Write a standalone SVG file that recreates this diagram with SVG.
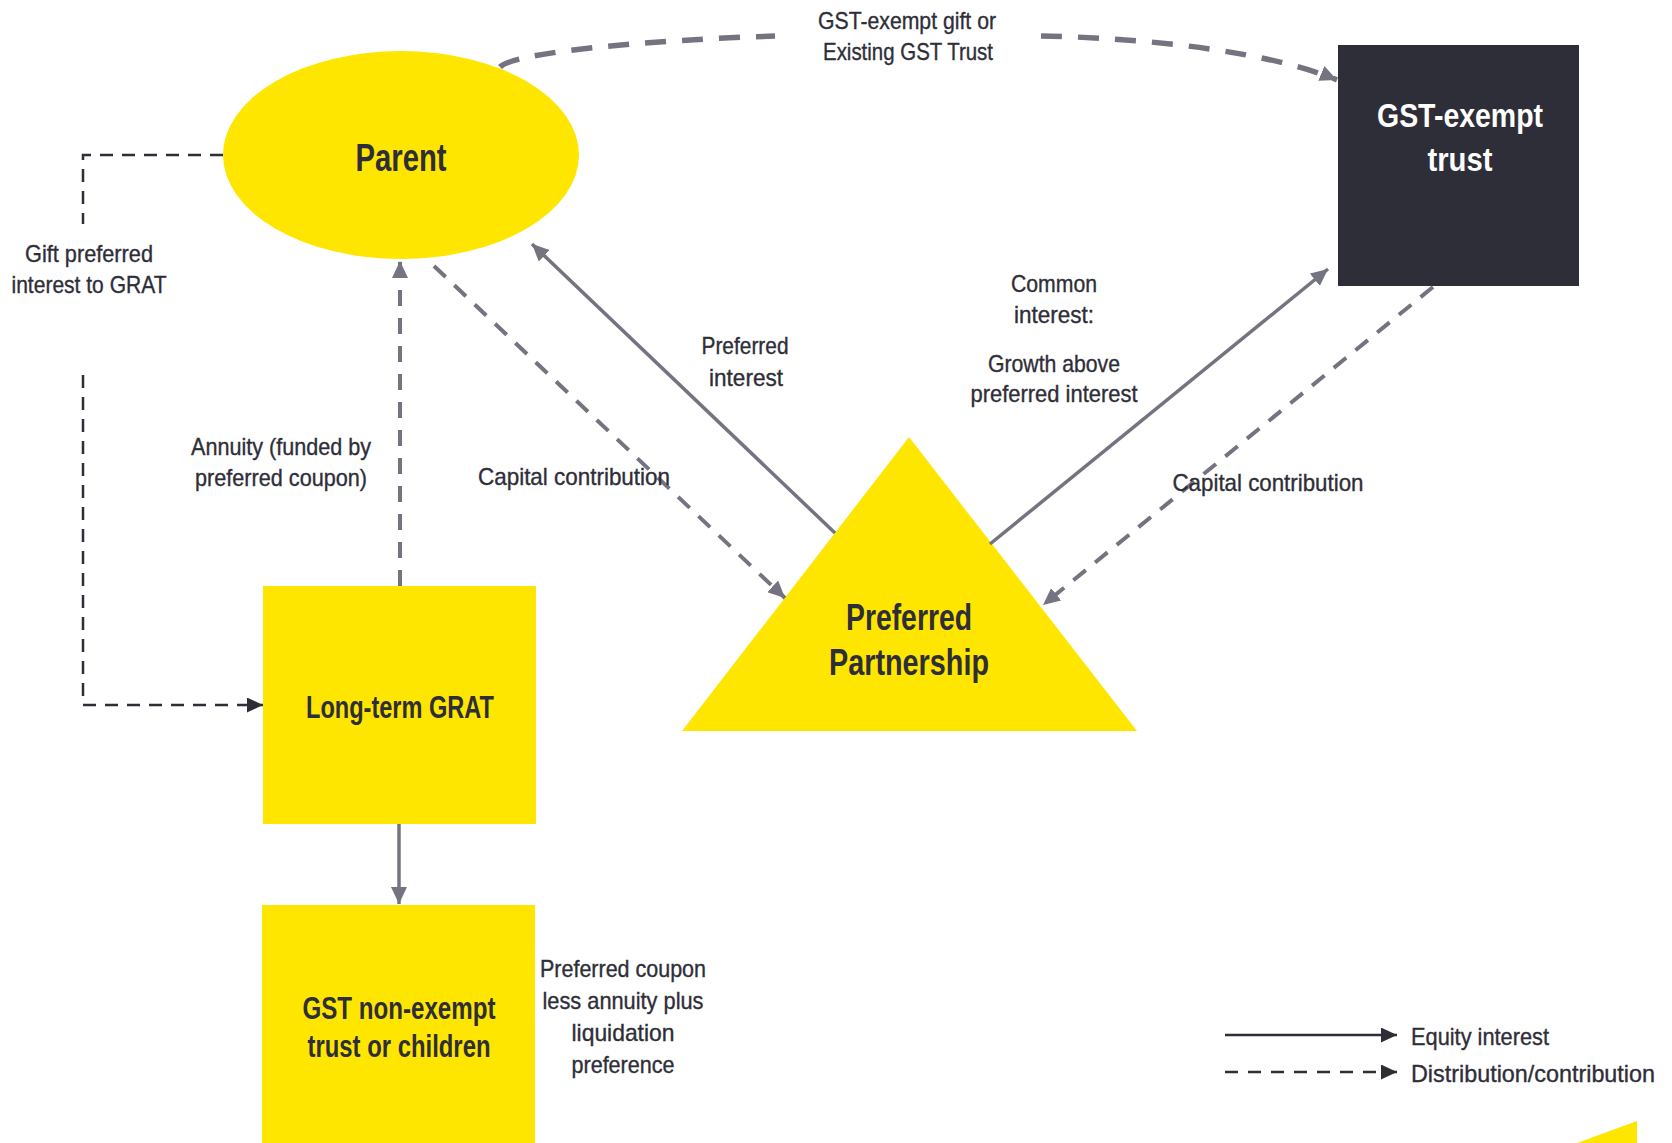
<svg xmlns="http://www.w3.org/2000/svg" width="1672" height="1143" viewBox="0 0 1672 1143">
  <style>
    .title { font-family: "Liberation Sans", Arial, sans-serif; font-weight: bold; fill: #2e2e38; text-anchor: middle; }
    .title-light { fill: #ffffff; }
    .label { font-family: "Liberation Sans", Arial, sans-serif; font-size: 24px; fill: #2e2e38; stroke: #2e2e38; stroke-width: 0.35; text-anchor: middle; }
    .legend-text { font-family: "Liberation Sans", Arial, sans-serif; font-size: 24px; fill: #2e2e38; stroke: #2e2e38; stroke-width: 0.35; }
    .equity { fill: none; stroke: #747480; stroke-width: 3.5; }
    .flow { fill: none; stroke: #747480; stroke-width: 4; stroke-dasharray: 16 12; }
    .flow-dark { fill: none; stroke: #2e2e38; stroke-width: 2.5; stroke-dasharray: 13 9; }
    .yellow { fill: #ffe600; }
  </style>
  <defs>
    <marker id="arrow-gray" markerUnits="userSpaceOnUse" markerWidth="17" markerHeight="16" viewBox="0 0 17 16" refX="17" refY="8" orient="auto">
      <path d="M0,0 L17,8 L0,16 Z" fill="#747480"/>
    </marker>
    <marker id="arrow-dark" markerUnits="userSpaceOnUse" markerWidth="16" markerHeight="15" viewBox="0 0 16 15" refX="16" refY="7.5" orient="auto">
      <path d="M0,0 L16,7.5 L0,15 Z" fill="#2e2e38"/>
    </marker>
  </defs>

  <rect width="1672" height="1143" fill="#ffffff"/>

  <!-- Nodes -->
  <g id="node-parent">
    <ellipse class="yellow" cx="401" cy="155" rx="178" ry="104"/>
    <text class="title" x="401" y="171" font-size="38" textLength="91" lengthAdjust="spacingAndGlyphs">Parent</text>
  </g>
  <g id="node-gst-exempt-trust">
    <rect x="1338" y="45" width="241" height="241" fill="#2e2e38"/>
    <text class="title title-light" x="1460" y="127" font-size="33" textLength="166" lengthAdjust="spacingAndGlyphs">GST-exempt</text>
    <text class="title title-light" x="1460" y="171" font-size="33" textLength="65" lengthAdjust="spacingAndGlyphs">trust</text>
  </g>
  <g id="node-long-term-grat">
    <rect class="yellow" x="263" y="586" width="273" height="238"/>
    <text class="title" x="400" y="718" font-size="32" textLength="188" lengthAdjust="spacingAndGlyphs">Long-term GRAT</text>
  </g>
  <g id="node-gst-non-exempt">
    <rect class="yellow" x="262" y="905" width="273" height="238"/>
    <text class="title" x="399" y="1019" font-size="31" textLength="193" lengthAdjust="spacingAndGlyphs">GST non-exempt</text>
    <text class="title" x="399" y="1057" font-size="31" textLength="183" lengthAdjust="spacingAndGlyphs">trust or children</text>
  </g>
  <g id="node-preferred-partnership">
    <polygon class="yellow" points="909,437 1137,731 682,731"/>
    <text class="title" x="909" y="630" font-size="36" textLength="126" lengthAdjust="spacingAndGlyphs">Preferred</text>
    <text class="title" x="909" y="675" font-size="36" textLength="160" lengthAdjust="spacingAndGlyphs">Partnership</text>
  </g>

  <!-- Connectors -->
  <g id="connectors">
    <!-- Parent to GST-exempt trust (gift), broken around its label -->
    <path d="M500,67 C515,52 650,40 775,36 M1041,36 C1150,38 1270,52 1337,80" fill="none" stroke="#747480" stroke-width="5.5" stroke-dasharray="21 16" marker-end="url(#arrow-gray)"/>
    <!-- Parent to Long-term GRAT (gift of preferred interest) -->
    <path class="flow-dark" d="M223,155 H83 V224 M83,375 V705 H263" marker-end="url(#arrow-dark)"/>
    <!-- Long-term GRAT annuity back to Parent -->
    <path class="flow" d="M400,586 V261" marker-end="url(#arrow-gray)"/>
    <!-- Parent capital contribution to partnership -->
    <path class="flow" d="M434,266 L785,598" marker-end="url(#arrow-gray)"/>
    <!-- Preferred interest to Parent -->
    <path class="equity" d="M835,533 L532,244" marker-end="url(#arrow-gray)"/>
    <!-- Common interest to GST-exempt trust -->
    <path class="equity" d="M990,544 L1328,269" marker-end="url(#arrow-gray)"/>
    <!-- GST-exempt trust capital contribution to partnership -->
    <path class="flow" d="M1433,287 L1043,605" marker-end="url(#arrow-gray)"/>
    <!-- Long-term GRAT to remainder beneficiaries -->
    <path class="equity" d="M399,824 V904" marker-end="url(#arrow-gray)"/>
  </g>

  <!-- Connector labels -->
  <g id="labels">
    <text class="label" x="907" y="29" textLength="178" lengthAdjust="spacingAndGlyphs">GST-exempt gift or</text>
    <text class="label" x="908" y="60" textLength="170" lengthAdjust="spacingAndGlyphs">Existing GST Trust</text>

    <text class="label" x="89" y="262" textLength="128" lengthAdjust="spacingAndGlyphs">Gift preferred</text>
    <text class="label" x="89" y="293" textLength="155" lengthAdjust="spacingAndGlyphs">interest to GRAT</text>

    <text class="label" x="281" y="455" textLength="180" lengthAdjust="spacingAndGlyphs">Annuity (funded by</text>
    <text class="label" x="281" y="486" textLength="172" lengthAdjust="spacingAndGlyphs">preferred coupon)</text>

    <text class="label" x="574" y="485" textLength="192" lengthAdjust="spacingAndGlyphs">Capital contribution</text>

    <text class="label" x="745" y="354" textLength="87" lengthAdjust="spacingAndGlyphs">Preferred</text>
    <text class="label" x="746" y="386" textLength="74" lengthAdjust="spacingAndGlyphs">interest</text>

    <text class="label" x="1054" y="292" textLength="86" lengthAdjust="spacingAndGlyphs">Common</text>
    <text class="label" x="1054" y="323" textLength="80" lengthAdjust="spacingAndGlyphs">interest:</text>
    <text class="label" x="1054" y="372" textLength="132" lengthAdjust="spacingAndGlyphs">Growth above</text>
    <text class="label" x="1054" y="402" textLength="167" lengthAdjust="spacingAndGlyphs">preferred interest</text>

    <text class="label" x="1268" y="491" textLength="191" lengthAdjust="spacingAndGlyphs">Capital contribution</text>

    <text class="label" x="623" y="977" textLength="166" lengthAdjust="spacingAndGlyphs">Preferred coupon</text>
    <text class="label" x="623" y="1009" textLength="161" lengthAdjust="spacingAndGlyphs">less annuity plus</text>
    <text class="label" x="623" y="1041" textLength="103" lengthAdjust="spacingAndGlyphs">liquidation</text>
    <text class="label" x="623" y="1073" textLength="103" lengthAdjust="spacingAndGlyphs">preference</text>
  </g>

  <!-- Legend -->
  <g id="legend">
    <path d="M1225,1035 H1397" fill="none" stroke="#2e2e38" stroke-width="2.5" marker-end="url(#arrow-dark)"/>
    <path d="M1225,1072 H1397" fill="none" stroke="#2e2e38" stroke-width="2.5" stroke-dasharray="13 10" marker-end="url(#arrow-dark)"/>
    <text class="legend-text" x="1411" y="1045" textLength="138" lengthAdjust="spacingAndGlyphs">Equity interest</text>
    <text class="legend-text" x="1411" y="1082" textLength="244" lengthAdjust="spacingAndGlyphs">Distribution/contribution</text>
  </g>

  <!-- Corner accent -->
  <polygon class="yellow" points="1577,1143 1637,1121 1637,1143"/>
</svg>
